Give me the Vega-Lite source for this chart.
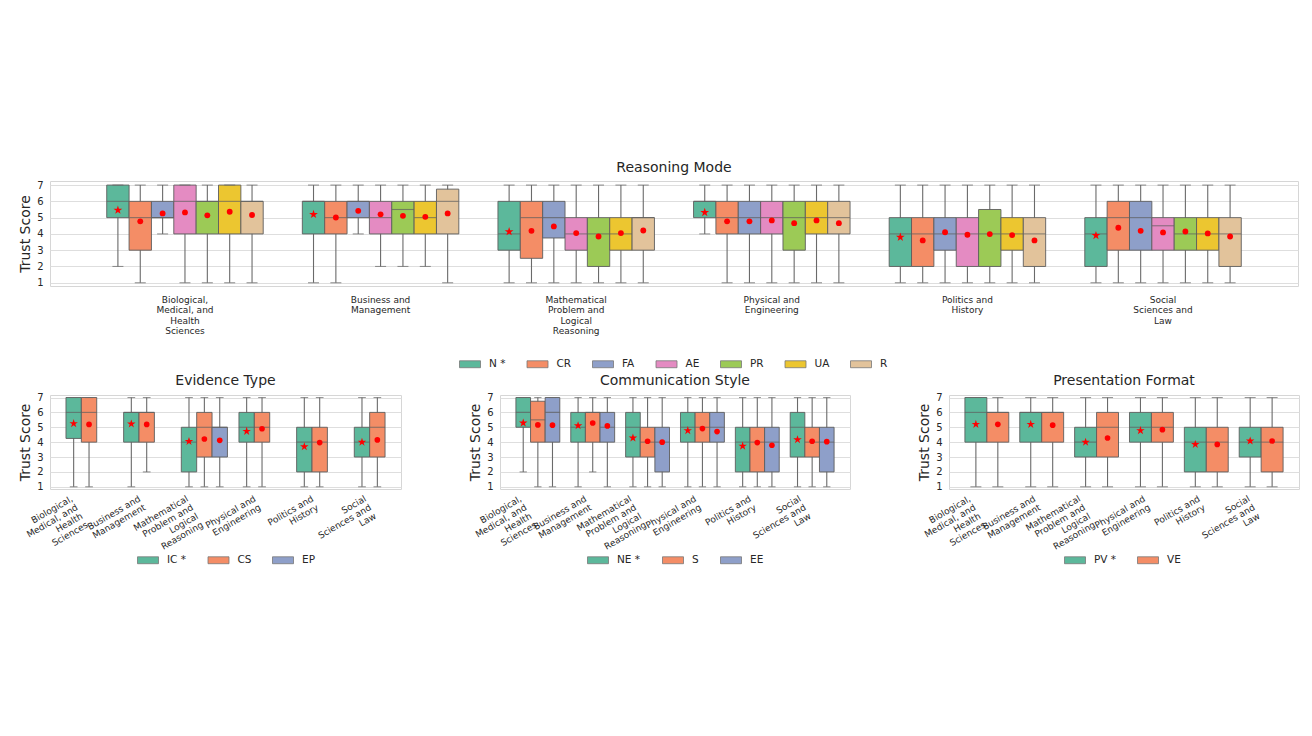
{
  "$schema": "https://vega.github.io/schema/vega-lite/v6.json",
  "background": "white",
  "padding": {"left": 18, "top": 160, "right": 5, "bottom": 5},
  "spacing": 2,
  "datasets": {
    "rm": [
      {"domain": "Biological, Medical, and Health Sciences", "group": "N *", "lo": 2, "q1": 5, "median": 6, "q3": 7, "hi": 7, "mean": 5.46},
      {"domain": "Biological, Medical, and Health Sciences", "group": "CR", "lo": 1, "q1": 3, "median": 5, "q3": 6, "hi": 7, "mean": 4.77},
      {"domain": "Biological, Medical, and Health Sciences", "group": "FA", "lo": 4, "q1": 5, "median": 5, "q3": 6, "hi": 7, "mean": 5.26},
      {"domain": "Biological, Medical, and Health Sciences", "group": "AE", "lo": 1, "q1": 4, "median": 6, "q3": 7, "hi": 7, "mean": 5.32},
      {"domain": "Biological, Medical, and Health Sciences", "group": "PR", "lo": 1, "q1": 4, "median": 6, "q3": 6, "hi": 7, "mean": 5.14},
      {"domain": "Biological, Medical, and Health Sciences", "group": "UA", "lo": 1, "q1": 4, "median": 6, "q3": 7, "hi": 7, "mean": 5.36},
      {"domain": "Biological, Medical, and Health Sciences", "group": "R", "lo": 1, "q1": 4, "median": 6, "q3": 6, "hi": 7, "mean": 5.16},
      {"domain": "Business and Management", "group": "N *", "lo": 1, "q1": 4, "median": 6, "q3": 6, "hi": 7, "mean": 5.2},
      {"domain": "Business and Management", "group": "CR", "lo": 1, "q1": 4, "median": 5, "q3": 6, "hi": 7, "mean": 5.01},
      {"domain": "Business and Management", "group": "FA", "lo": 4, "q1": 5, "median": 6, "q3": 6, "hi": 7, "mean": 5.42},
      {"domain": "Business and Management", "group": "AE", "lo": 2, "q1": 4, "median": 5, "q3": 6, "hi": 7, "mean": 5.2},
      {"domain": "Business and Management", "group": "PR", "lo": 2, "q1": 4, "median": 5.5, "q3": 6, "hi": 7, "mean": 5.11},
      {"domain": "Business and Management", "group": "UA", "lo": 2, "q1": 4, "median": 5, "q3": 6, "hi": 7, "mean": 5.05},
      {"domain": "Business and Management", "group": "R", "lo": 1, "q1": 4, "median": 6, "q3": 6.75, "hi": 7, "mean": 5.26},
      {"domain": "Mathematical Problem and Logical Reasoning", "group": "N *", "lo": 1, "q1": 3, "median": 4, "q3": 6, "hi": 7, "mean": 4.14},
      {"domain": "Mathematical Problem and Logical Reasoning", "group": "CR", "lo": 1, "q1": 2.5, "median": 5, "q3": 6, "hi": 7, "mean": 4.19},
      {"domain": "Mathematical Problem and Logical Reasoning", "group": "FA", "lo": 1, "q1": 3.75, "median": 5, "q3": 6, "hi": 7, "mean": 4.46},
      {"domain": "Mathematical Problem and Logical Reasoning", "group": "AE", "lo": 1, "q1": 3, "median": 4, "q3": 5, "hi": 7, "mean": 4.05},
      {"domain": "Mathematical Problem and Logical Reasoning", "group": "PR", "lo": 1, "q1": 2, "median": 4, "q3": 5, "hi": 7, "mean": 3.84},
      {"domain": "Mathematical Problem and Logical Reasoning", "group": "UA", "lo": 1, "q1": 3, "median": 4, "q3": 5, "hi": 7, "mean": 4.05},
      {"domain": "Mathematical Problem and Logical Reasoning", "group": "R", "lo": 1, "q1": 3, "median": 5, "q3": 5, "hi": 7, "mean": 4.21},
      {"domain": "Physical and Engineering", "group": "N *", "lo": 4, "q1": 5, "median": 6, "q3": 6, "hi": 7, "mean": 5.32},
      {"domain": "Physical and Engineering", "group": "CR", "lo": 1, "q1": 4, "median": 5, "q3": 6, "hi": 7, "mean": 4.77},
      {"domain": "Physical and Engineering", "group": "FA", "lo": 1, "q1": 4, "median": 5, "q3": 6, "hi": 7, "mean": 4.77},
      {"domain": "Physical and Engineering", "group": "AE", "lo": 1, "q1": 4, "median": 5, "q3": 6, "hi": 7, "mean": 4.83},
      {"domain": "Physical and Engineering", "group": "PR", "lo": 1, "q1": 3, "median": 5, "q3": 6, "hi": 7, "mean": 4.66},
      {"domain": "Physical and Engineering", "group": "UA", "lo": 1, "q1": 4, "median": 5, "q3": 6, "hi": 7, "mean": 4.83},
      {"domain": "Physical and Engineering", "group": "R", "lo": 1, "q1": 4, "median": 5, "q3": 6, "hi": 7, "mean": 4.66},
      {"domain": "Politics and History", "group": "N *", "lo": 1, "q1": 2, "median": 4, "q3": 5, "hi": 7, "mean": 3.8},
      {"domain": "Politics and History", "group": "CR", "lo": 1, "q1": 2, "median": 4, "q3": 5, "hi": 7, "mean": 3.6},
      {"domain": "Politics and History", "group": "FA", "lo": 1, "q1": 3, "median": 4, "q3": 5, "hi": 7, "mean": 4.1},
      {"domain": "Politics and History", "group": "AE", "lo": 1, "q1": 2, "median": 4, "q3": 5, "hi": 7, "mean": 3.95},
      {"domain": "Politics and History", "group": "PR", "lo": 1, "q1": 2, "median": 4, "q3": 5.5, "hi": 7, "mean": 3.99},
      {"domain": "Politics and History", "group": "UA", "lo": 1, "q1": 3, "median": 4, "q3": 5, "hi": 7, "mean": 3.93},
      {"domain": "Politics and History", "group": "R", "lo": 1, "q1": 2, "median": 4, "q3": 5, "hi": 7, "mean": 3.6},
      {"domain": "Social Sciences and Law", "group": "N *", "lo": 1, "q1": 2, "median": 4, "q3": 5, "hi": 7, "mean": 3.9},
      {"domain": "Social Sciences and Law", "group": "CR", "lo": 1, "q1": 3, "median": 5, "q3": 6, "hi": 7, "mean": 4.38},
      {"domain": "Social Sciences and Law", "group": "FA", "lo": 1, "q1": 3, "median": 5, "q3": 6, "hi": 7, "mean": 4.19},
      {"domain": "Social Sciences and Law", "group": "AE", "lo": 1, "q1": 3, "median": 4.5, "q3": 5, "hi": 7, "mean": 4.09},
      {"domain": "Social Sciences and Law", "group": "PR", "lo": 1, "q1": 3, "median": 4, "q3": 5, "hi": 7, "mean": 4.15},
      {"domain": "Social Sciences and Law", "group": "UA", "lo": 1, "q1": 3, "median": 4, "q3": 5, "hi": 7, "mean": 4.03},
      {"domain": "Social Sciences and Law", "group": "R", "lo": 1, "q1": 2, "median": 4, "q3": 5, "hi": 7, "mean": 3.84}
    ],
    "ev": [
      {"domain": "Biological, Medical, and Health Sciences", "group": "IC *", "lo": 1, "q1": 4.25, "median": 6, "q3": 7, "hi": 7, "mean": 5.25},
      {"domain": "Biological, Medical, and Health Sciences", "group": "CS", "lo": 1, "q1": 4, "median": 6, "q3": 7, "hi": 7, "mean": 5.19},
      {"domain": "Business and Management", "group": "IC *", "lo": 1, "q1": 4, "median": 6, "q3": 6, "hi": 7, "mean": 5.23},
      {"domain": "Business and Management", "group": "CS", "lo": 2, "q1": 4, "median": 6, "q3": 6, "hi": 7, "mean": 5.19},
      {"domain": "Mathematical Problem and Logical Reasoning", "group": "IC *", "lo": 1, "q1": 2, "median": 4, "q3": 5, "hi": 7, "mean": 4.05},
      {"domain": "Mathematical Problem and Logical Reasoning", "group": "CS", "lo": 1, "q1": 3, "median": 5, "q3": 6, "hi": 7, "mean": 4.21},
      {"domain": "Mathematical Problem and Logical Reasoning", "group": "EP", "lo": 1, "q1": 3, "median": 5, "q3": 5, "hi": 7, "mean": 4.12},
      {"domain": "Physical and Engineering", "group": "IC *", "lo": 1, "q1": 4, "median": 5, "q3": 6, "hi": 7, "mean": 4.73},
      {"domain": "Physical and Engineering", "group": "CS", "lo": 1, "q1": 4, "median": 5, "q3": 6, "hi": 7, "mean": 4.9},
      {"domain": "Politics and History", "group": "IC *", "lo": 1, "q1": 2, "median": 4, "q3": 5, "hi": 7, "mean": 3.7},
      {"domain": "Politics and History", "group": "CS", "lo": 1, "q1": 2, "median": 4, "q3": 5, "hi": 7, "mean": 3.97},
      {"domain": "Social Sciences and Law", "group": "IC *", "lo": 1, "q1": 3, "median": 4, "q3": 5, "hi": 7, "mean": 4.0},
      {"domain": "Social Sciences and Law", "group": "CS", "lo": 1, "q1": 3, "median": 5, "q3": 6, "hi": 7, "mean": 4.15}
    ],
    "cs": [
      {"domain": "Biological, Medical, and Health Sciences", "group": "NE *", "lo": 2, "q1": 5, "median": 6, "q3": 7, "hi": 7, "mean": 5.29},
      {"domain": "Biological, Medical, and Health Sciences", "group": "S", "lo": 1, "q1": 4, "median": 5.5, "q3": 6.75, "hi": 7, "mean": 5.16},
      {"domain": "Biological, Medical, and Health Sciences", "group": "EE", "lo": 1, "q1": 4, "median": 6, "q3": 7, "hi": 7, "mean": 5.14},
      {"domain": "Business and Management", "group": "NE *", "lo": 1, "q1": 4, "median": 5, "q3": 6, "hi": 7, "mean": 5.11},
      {"domain": "Business and Management", "group": "S", "lo": 2, "q1": 4, "median": 6, "q3": 6, "hi": 7, "mean": 5.29},
      {"domain": "Business and Management", "group": "EE", "lo": 1, "q1": 4, "median": 5, "q3": 6, "hi": 7, "mean": 5.09},
      {"domain": "Mathematical Problem and Logical Reasoning", "group": "NE *", "lo": 1, "q1": 3, "median": 5, "q3": 6, "hi": 7, "mean": 4.28},
      {"domain": "Mathematical Problem and Logical Reasoning", "group": "S", "lo": 1, "q1": 3, "median": 4, "q3": 5, "hi": 7, "mean": 4.06},
      {"domain": "Mathematical Problem and Logical Reasoning", "group": "EE", "lo": 1, "q1": 2, "median": 4, "q3": 5, "hi": 7, "mean": 4.0},
      {"domain": "Physical and Engineering", "group": "NE *", "lo": 1, "q1": 4, "median": 5, "q3": 6, "hi": 7, "mean": 4.78},
      {"domain": "Physical and Engineering", "group": "S", "lo": 1, "q1": 4, "median": 5, "q3": 6, "hi": 7, "mean": 4.91},
      {"domain": "Physical and Engineering", "group": "EE", "lo": 1, "q1": 4, "median": 5, "q3": 6, "hi": 7, "mean": 4.71},
      {"domain": "Politics and History", "group": "NE *", "lo": 1, "q1": 2, "median": 4, "q3": 5, "hi": 7, "mean": 3.74},
      {"domain": "Politics and History", "group": "S", "lo": 1, "q1": 2, "median": 4, "q3": 5, "hi": 7, "mean": 3.97},
      {"domain": "Politics and History", "group": "EE", "lo": 1, "q1": 2, "median": 4, "q3": 5, "hi": 7, "mean": 3.79},
      {"domain": "Social Sciences and Law", "group": "NE *", "lo": 1, "q1": 3, "median": 5, "q3": 6, "hi": 7, "mean": 4.17},
      {"domain": "Social Sciences and Law", "group": "S", "lo": 1, "q1": 3, "median": 4, "q3": 5, "hi": 7, "mean": 4.06},
      {"domain": "Social Sciences and Law", "group": "EE", "lo": 1, "q1": 2, "median": 4, "q3": 5, "hi": 7, "mean": 4.03}
    ],
    "pf": [
      {"domain": "Biological, Medical, and Health Sciences", "group": "PV *", "lo": 1, "q1": 4, "median": 6, "q3": 7, "hi": 7, "mean": 5.2},
      {"domain": "Biological, Medical, and Health Sciences", "group": "VE", "lo": 1, "q1": 4, "median": 6, "q3": 6, "hi": 7, "mean": 5.2},
      {"domain": "Business and Management", "group": "PV *", "lo": 1, "q1": 4, "median": 6, "q3": 6, "hi": 7, "mean": 5.2},
      {"domain": "Business and Management", "group": "VE", "lo": 1, "q1": 4, "median": 6, "q3": 6, "hi": 7, "mean": 5.14},
      {"domain": "Mathematical Problem and Logical Reasoning", "group": "PV *", "lo": 1, "q1": 3, "median": 4, "q3": 5, "hi": 7, "mean": 4.0},
      {"domain": "Mathematical Problem and Logical Reasoning", "group": "VE", "lo": 1, "q1": 3, "median": 5, "q3": 6, "hi": 7, "mean": 4.28},
      {"domain": "Physical and Engineering", "group": "PV *", "lo": 1, "q1": 4, "median": 5, "q3": 6, "hi": 7, "mean": 4.78},
      {"domain": "Physical and Engineering", "group": "VE", "lo": 1, "q1": 4, "median": 5, "q3": 6, "hi": 7, "mean": 4.84},
      {"domain": "Politics and History", "group": "PV *", "lo": 1, "q1": 2, "median": 4, "q3": 5, "hi": 7, "mean": 3.85},
      {"domain": "Politics and History", "group": "VE", "lo": 1, "q1": 2, "median": 4, "q3": 5, "hi": 7, "mean": 3.85},
      {"domain": "Social Sciences and Law", "group": "PV *", "lo": 1, "q1": 3, "median": 4, "q3": 5, "hi": 7, "mean": 4.08},
      {"domain": "Social Sciences and Law", "group": "VE", "lo": 1, "q1": 2, "median": 4, "q3": 5, "hi": 7, "mean": 4.08}
    ]
  },
  "vconcat": [
    {
      "width": 1248,
      "height": 105,
      "title": "Reasoning Mode",
      "data": {"name": "rm"},
      "encoding": {
        "x": {"field": "domain", "type": "nominal", "title": null,
          "scale": {"domain": ["Biological, Medical, and Health Sciences", "Business and Management", "Mathematical Problem and Logical Reasoning", "Physical and Engineering", "Politics and History", "Social Sciences and Law"], "paddingInner": 0.2, "paddingOuter": 0.29},
          "axis": {"labelAngle": 0, "labelAlign": "center", "labelBaseline": "top", "labelFontSize": 9, "labelLineHeight": 10.5, "labelPadding": 9,
            "labelExpr": "datum.value == 'Biological, Medical, and Health Sciences' ? ['Biological,', 'Medical, and', 'Health', 'Sciences'] : datum.value == 'Business and Management' ? ['Business and', 'Management'] : datum.value == 'Mathematical Problem and Logical Reasoning' ? ['Mathematical', 'Problem and', 'Logical', 'Reasoning'] : datum.value == 'Physical and Engineering' ? ['Physical and', 'Engineering'] : datum.value == 'Politics and History' ? ['Politics and', 'History'] : ['Social', 'Sciences and', 'Law']"}},
        "xOffset": {"field": "group", "type": "nominal", "scale": {"domain": ["N *", "CR", "FA", "AE", "PR", "UA", "R"], "paddingInner": 0, "paddingOuter": 0}}
      },
      "layer": [
        {"mark": {"type": "rule", "color": "#6a6a6a", "strokeWidth": 1.1},
          "encoding": {"y": {"field": "lo", "type": "quantitative", "title": "Trust Score", "scale": {"domain": [0.8, 7.25], "nice": false, "zero": false}, "axis": {"values": [1, 2, 3, 4, 5, 6, 7]}}, "y2": {"field": "hi"}}},
        {"mark": {"type": "bar", "stroke": "#5e5e5e", "strokeWidth": 0.9},
          "encoding": {"y": {"field": "q1", "type": "quantitative", "title": "Trust Score", "axis": {"values": [1, 2, 3, 4, 5, 6, 7]}}, "y2": {"field": "q3"},
            "color": {"field": "group", "type": "nominal",
              "scale": {"domain": ["N *", "CR", "FA", "AE", "PR", "UA", "R"], "range": ["#5cb89b", "#f48d66", "#8e9fc9", "#e48bc2", "#9cca56", "#ecc630", "#e2c39b"]},
              "legend": {"orient": "none", "legendX": 409, "legendY": 172, "direction": "horizontal", "title": null, "symbolType": "M-1,-0.33H1V0.33H-1Z", "symbolSize": 441, "symbolStrokeColor": "#777777", "symbolStrokeWidth": 0.8, "symbolOpacity": 1, "labelFontSize": 10.5, "labelOffset": 8, "columnPadding": 18.5, "labelColor": "#262626"}}}},
        {"mark": {"type": "tick", "color": "#5e5e5e", "thickness": 1.1, "size": 22},
          "encoding": {"y": {"field": "median", "type": "quantitative", "title": "Trust Score", "axis": {"values": [1, 2, 3, 4, 5, 6, 7]}}}},
        {"mark": {"type": "tick", "color": "#6a6a6a", "thickness": 1.1, "size": 11},
          "encoding": {"y": {"field": "lo", "type": "quantitative", "title": "Trust Score", "axis": {"values": [1, 2, 3, 4, 5, 6, 7]}}}},
        {"mark": {"type": "tick", "color": "#6a6a6a", "thickness": 1.1, "size": 11},
          "encoding": {"y": {"field": "hi", "type": "quantitative", "title": "Trust Score", "axis": {"values": [1, 2, 3, 4, 5, 6, 7]}}}},
        {"mark": {"type": "point", "filled": true, "color": "#ff0000", "opacity": 1},
          "encoding": {"y": {"field": "mean", "type": "quantitative", "title": "Trust Score", "axis": {"values": [1, 2, 3, 4, 5, 6, 7]}},
            "size": {"condition": {"test": "indexof(datum.group, '*') >= 0", "value": 85}, "value": 34},
            "shape": {"condition": {"test": "indexof(datum.group, '*') >= 0", "value": "M0,-1L0.2245,-0.309L0.951,-0.309L0.363,0.118L0.588,0.809L0,0.382L-0.588,0.809L-0.363,0.118L-0.951,-0.309L-0.2245,-0.309Z"}, "value": "circle"}}}
      ]
    },
    {
      "hconcat": [
        {
          "width": 351,
          "height": 94,
          "title": "Evidence Type",
          "data": {"name": "ev"},
          "encoding": {
            "x": {"field": "domain", "type": "nominal", "title": null,
              "scale": {"domain": ["Biological, Medical, and Health Sciences", "Business and Management", "Mathematical Problem and Logical Reasoning", "Physical and Engineering", "Politics and History", "Social Sciences and Law"], "paddingInner": 0.2, "paddingOuter": 0.1435, "align": 0.965},
              "axis": {"labelAngle": -30, "labelAlign": "right", "labelBaseline": "top", "labelFontSize": 9, "labelLineHeight": 10, "labelPadding": 5,
                "labelOffset": {"condition": [{"test": "datum.value == 'Biological, Medical, and Health Sciences' || datum.value == 'Mathematical Problem and Logical Reasoning'", "value": -19}, {"test": "datum.value == 'Social Sciences and Law'", "value": -14}], "value": -9},
                "labelExpr": "datum.value == 'Biological, Medical, and Health Sciences' ? ['Biological,', 'Medical, and', 'Health', 'Sciences'] : datum.value == 'Business and Management' ? ['Business and', 'Management'] : datum.value == 'Mathematical Problem and Logical Reasoning' ? ['Mathematical', 'Problem and', 'Logical', 'Reasoning'] : datum.value == 'Physical and Engineering' ? ['Physical and', 'Engineering'] : datum.value == 'Politics and History' ? ['Politics and', 'History'] : ['Social', 'Sciences and', 'Law']"}},
            "xOffset": {"field": "group", "type": "nominal", "scale": {"domain": ["IC *", "CS", "EP"], "paddingInner": 0, "paddingOuter": 0}}
          },
          "layer": [
            {"mark": {"type": "rule", "color": "#6a6a6a", "strokeWidth": 1.1},
              "encoding": {"y": {"field": "lo", "type": "quantitative", "title": "Trust Score", "scale": {"domain": [0.85, 7.17], "nice": false, "zero": false}, "axis": {"values": [1, 2, 3, 4, 5, 6, 7]}}, "y2": {"field": "hi"}}},
            {"mark": {"type": "bar", "stroke": "#5e5e5e", "strokeWidth": 0.9},
              "encoding": {"y": {"field": "q1", "type": "quantitative", "title": "Trust Score", "axis": {"values": [1, 2, 3, 4, 5, 6, 7]}}, "y2": {"field": "q3"},
                "color": {"field": "group", "type": "nominal",
                  "scale": {"domain": ["IC *", "CS", "EP"], "range": ["#5cb89b", "#f48d66", "#8e9fc9"]},
                  "legend": {"orient": "none", "legendX": 87, "legendY": 154, "direction": "horizontal", "title": null, "symbolType": "M-1,-0.33H1V0.33H-1Z", "symbolSize": 441, "symbolStrokeColor": "#777777", "symbolStrokeWidth": 0.8, "symbolOpacity": 1, "labelFontSize": 10.5, "labelOffset": 8, "columnPadding": 18.5, "labelColor": "#262626"}}}},
            {"mark": {"type": "tick", "color": "#5e5e5e", "thickness": 1.1, "size": 15.4},
              "encoding": {"y": {"field": "median", "type": "quantitative", "title": "Trust Score", "axis": {"values": [1, 2, 3, 4, 5, 6, 7]}}}},
            {"mark": {"type": "tick", "color": "#6a6a6a", "thickness": 1.1, "size": 7.7},
              "encoding": {"y": {"field": "lo", "type": "quantitative", "title": "Trust Score", "axis": {"values": [1, 2, 3, 4, 5, 6, 7]}}}},
            {"mark": {"type": "tick", "color": "#6a6a6a", "thickness": 1.1, "size": 7.7},
              "encoding": {"y": {"field": "hi", "type": "quantitative", "title": "Trust Score", "axis": {"values": [1, 2, 3, 4, 5, 6, 7]}}}},
            {"mark": {"type": "point", "filled": true, "color": "#ff0000", "opacity": 1},
              "encoding": {"y": {"field": "mean", "type": "quantitative", "title": "Trust Score", "axis": {"values": [1, 2, 3, 4, 5, 6, 7]}},
                "size": {"condition": {"test": "indexof(datum.group, '*') >= 0", "value": 80}, "value": 32},
                "shape": {"condition": {"test": "indexof(datum.group, '*') >= 0", "value": "M0,-1L0.2245,-0.309L0.951,-0.309L0.363,0.118L0.588,0.809L0,0.382L-0.588,0.809L-0.363,0.118L-0.951,-0.309L-0.2245,-0.309Z"}, "value": "circle"}}}
          ]
        },
        {
          "width": 350,
          "height": 94,
          "title": "Communication Style",
          "data": {"name": "cs"},
          "encoding": {
            "x": {"field": "domain", "type": "nominal", "title": null,
              "scale": {"domain": ["Biological, Medical, and Health Sciences", "Business and Management", "Mathematical Problem and Logical Reasoning", "Physical and Engineering", "Politics and History", "Social Sciences and Law"], "paddingInner": 0.2, "paddingOuter": 0.29},
              "axis": {"labelAngle": -30, "labelAlign": "right", "labelBaseline": "top", "labelFontSize": 9, "labelLineHeight": 10, "labelPadding": 5,
                "labelOffset": {"condition": [{"test": "datum.value == 'Biological, Medical, and Health Sciences' || datum.value == 'Mathematical Problem and Logical Reasoning'", "value": -19}, {"test": "datum.value == 'Social Sciences and Law'", "value": -14}], "value": -9},
                "labelExpr": "datum.value == 'Biological, Medical, and Health Sciences' ? ['Biological,', 'Medical, and', 'Health', 'Sciences'] : datum.value == 'Business and Management' ? ['Business and', 'Management'] : datum.value == 'Mathematical Problem and Logical Reasoning' ? ['Mathematical', 'Problem and', 'Logical', 'Reasoning'] : datum.value == 'Physical and Engineering' ? ['Physical and', 'Engineering'] : datum.value == 'Politics and History' ? ['Politics and', 'History'] : ['Social', 'Sciences and', 'Law']"}},
            "xOffset": {"field": "group", "type": "nominal", "scale": {"domain": ["NE *", "S", "EE"], "paddingInner": 0, "paddingOuter": 0}}
          },
          "layer": [
            {"mark": {"type": "rule", "color": "#6a6a6a", "strokeWidth": 1.1},
              "encoding": {"y": {"field": "lo", "type": "quantitative", "title": "Trust Score", "scale": {"domain": [0.85, 7.17], "nice": false, "zero": false}, "axis": {"values": [1, 2, 3, 4, 5, 6, 7]}}, "y2": {"field": "hi"}}},
            {"mark": {"type": "bar", "stroke": "#5e5e5e", "strokeWidth": 0.9},
              "encoding": {"y": {"field": "q1", "type": "quantitative", "title": "Trust Score", "axis": {"values": [1, 2, 3, 4, 5, 6, 7]}}, "y2": {"field": "q3"},
                "color": {"field": "group", "type": "nominal",
                  "scale": {"domain": ["NE *", "S", "EE"], "range": ["#5cb89b", "#f48d66", "#8e9fc9"]},
                  "legend": {"orient": "none", "legendX": 87, "legendY": 154, "direction": "horizontal", "title": null, "symbolType": "M-1,-0.33H1V0.33H-1Z", "symbolSize": 441, "symbolStrokeColor": "#777777", "symbolStrokeWidth": 0.8, "symbolOpacity": 1, "labelFontSize": 10.5, "labelOffset": 8, "columnPadding": 19, "labelColor": "#262626"}}}},
            {"mark": {"type": "tick", "color": "#5e5e5e", "thickness": 1.1, "size": 14.6},
              "encoding": {"y": {"field": "median", "type": "quantitative", "title": "Trust Score", "axis": {"values": [1, 2, 3, 4, 5, 6, 7]}}}},
            {"mark": {"type": "tick", "color": "#6a6a6a", "thickness": 1.1, "size": 7.3},
              "encoding": {"y": {"field": "lo", "type": "quantitative", "title": "Trust Score", "axis": {"values": [1, 2, 3, 4, 5, 6, 7]}}}},
            {"mark": {"type": "tick", "color": "#6a6a6a", "thickness": 1.1, "size": 7.3},
              "encoding": {"y": {"field": "hi", "type": "quantitative", "title": "Trust Score", "axis": {"values": [1, 2, 3, 4, 5, 6, 7]}}}},
            {"mark": {"type": "point", "filled": true, "color": "#ff0000", "opacity": 1},
              "encoding": {"y": {"field": "mean", "type": "quantitative", "title": "Trust Score", "axis": {"values": [1, 2, 3, 4, 5, 6, 7]}},
                "size": {"condition": {"test": "indexof(datum.group, '*') >= 0", "value": 80}, "value": 32},
                "shape": {"condition": {"test": "indexof(datum.group, '*') >= 0", "value": "M0,-1L0.2245,-0.309L0.951,-0.309L0.363,0.118L0.588,0.809L0,0.382L-0.588,0.809L-0.363,0.118L-0.951,-0.309L-0.2245,-0.309Z"}, "value": "circle"}}}
          ]
        },
        {
          "width": 350,
          "height": 94,
          "title": "Presentation Format",
          "data": {"name": "pf"},
          "encoding": {
            "x": {"field": "domain", "type": "nominal", "title": null,
              "scale": {"domain": ["Biological, Medical, and Health Sciences", "Business and Management", "Mathematical Problem and Logical Reasoning", "Physical and Engineering", "Politics and History", "Social Sciences and Law"], "paddingInner": 0.2, "paddingOuter": 0.29},
              "axis": {"labelAngle": -30, "labelAlign": "right", "labelBaseline": "top", "labelFontSize": 9, "labelLineHeight": 10, "labelPadding": 5,
                "labelOffset": {"condition": [{"test": "datum.value == 'Biological, Medical, and Health Sciences' || datum.value == 'Mathematical Problem and Logical Reasoning'", "value": -19}, {"test": "datum.value == 'Social Sciences and Law'", "value": -14}], "value": -9},
                "labelExpr": "datum.value == 'Biological, Medical, and Health Sciences' ? ['Biological,', 'Medical, and', 'Health', 'Sciences'] : datum.value == 'Business and Management' ? ['Business and', 'Management'] : datum.value == 'Mathematical Problem and Logical Reasoning' ? ['Mathematical', 'Problem and', 'Logical', 'Reasoning'] : datum.value == 'Physical and Engineering' ? ['Physical and', 'Engineering'] : datum.value == 'Politics and History' ? ['Politics and', 'History'] : ['Social', 'Sciences and', 'Law']"}},
            "xOffset": {"field": "group", "type": "nominal", "scale": {"domain": ["PV *", "VE"], "paddingInner": 0, "paddingOuter": 0}}
          },
          "layer": [
            {"mark": {"type": "rule", "color": "#6a6a6a", "strokeWidth": 1.1},
              "encoding": {"y": {"field": "lo", "type": "quantitative", "title": "Trust Score", "scale": {"domain": [0.85, 7.17], "nice": false, "zero": false}, "axis": {"values": [1, 2, 3, 4, 5, 6, 7]}}, "y2": {"field": "hi"}}},
            {"mark": {"type": "bar", "stroke": "#5e5e5e", "strokeWidth": 0.9},
              "encoding": {"y": {"field": "q1", "type": "quantitative", "title": "Trust Score", "axis": {"values": [1, 2, 3, 4, 5, 6, 7]}}, "y2": {"field": "q3"},
                "color": {"field": "group", "type": "nominal",
                  "scale": {"domain": ["PV *", "VE"], "range": ["#5cb89b", "#f48d66"]},
                  "legend": {"orient": "none", "legendX": 115, "legendY": 154, "direction": "horizontal", "title": null, "symbolType": "M-1,-0.33H1V0.33H-1Z", "symbolSize": 441, "symbolStrokeColor": "#777777", "symbolStrokeWidth": 0.8, "symbolOpacity": 1, "labelFontSize": 10.5, "labelOffset": 8, "columnPadding": 18, "labelColor": "#262626"}}}},
            {"mark": {"type": "tick", "color": "#5e5e5e", "thickness": 1.1, "size": 22},
              "encoding": {"y": {"field": "median", "type": "quantitative", "title": "Trust Score", "axis": {"values": [1, 2, 3, 4, 5, 6, 7]}}}},
            {"mark": {"type": "tick", "color": "#6a6a6a", "thickness": 1.1, "size": 11},
              "encoding": {"y": {"field": "lo", "type": "quantitative", "title": "Trust Score", "axis": {"values": [1, 2, 3, 4, 5, 6, 7]}}}},
            {"mark": {"type": "tick", "color": "#6a6a6a", "thickness": 1.1, "size": 11},
              "encoding": {"y": {"field": "hi", "type": "quantitative", "title": "Trust Score", "axis": {"values": [1, 2, 3, 4, 5, 6, 7]}}}},
            {"mark": {"type": "point", "filled": true, "color": "#ff0000", "opacity": 1},
              "encoding": {"y": {"field": "mean", "type": "quantitative", "title": "Trust Score", "axis": {"values": [1, 2, 3, 4, 5, 6, 7]}},
                "size": {"condition": {"test": "indexof(datum.group, '*') >= 0", "value": 80}, "value": 32},
                "shape": {"condition": {"test": "indexof(datum.group, '*') >= 0", "value": "M0,-1L0.2245,-0.309L0.951,-0.309L0.363,0.118L0.588,0.809L0,0.382L-0.588,0.809L-0.363,0.118L-0.951,-0.309L-0.2245,-0.309Z"}, "value": "circle"}}}
          ]
        }
      ],
      "spacing": 66,
      "resolve": {"scale": {"color": "independent", "x": "independent", "xOffset": "independent", "y": "independent"}, "legend": {"color": "independent"}}
    }
  ],
  "resolve": {"scale": {"color": "independent", "x": "independent", "xOffset": "independent", "y": "independent"}, "legend": {"color": "independent"}},
  "config": {
    "font": "DejaVu Sans",
    "view": {"stroke": "#d6d6d6", "strokeWidth": 1},
    "axis": {"domain": false, "ticks": false, "labelColor": "#262626", "titleColor": "#262626", "titleFontWeight": "normal", "labelFont": "DejaVu Sans", "titleFont": "DejaVu Sans"},
    "axisY": {"grid": true, "gridColor": "#dedede", "labelFontSize": 10, "titleFontSize": 14, "labelPadding": 7, "titlePadding": 4},
    "axisX": {"grid": false},
    "title": {"fontSize": 14, "fontWeight": "normal", "color": "#262626", "offset": 5, "font": "DejaVu Sans"}
  }
}
